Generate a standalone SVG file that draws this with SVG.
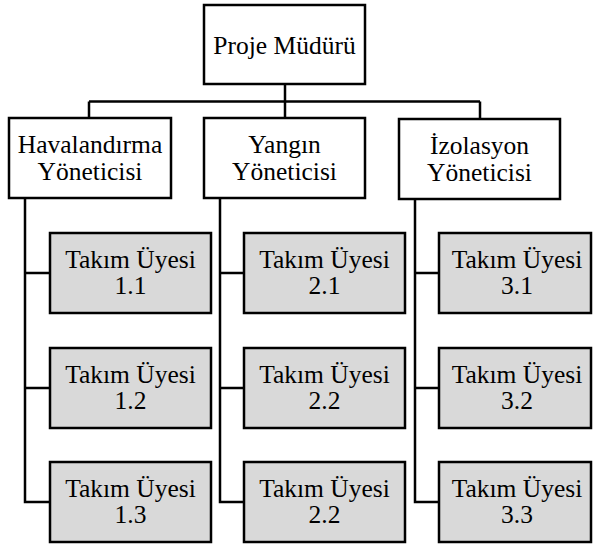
<svg xmlns="http://www.w3.org/2000/svg" width="595" height="547" viewBox="0 0 595 547">
<style>
.box{fill:#ffffff;stroke:#000;stroke-width:2.5}
.team{fill:#d9d9d9;stroke:#000;stroke-width:2.5}
.t{font-family:'Liberation Serif','Times New Roman','DejaVu Serif',serif;font-size:25.5px;fill:#000;text-anchor:middle}
.c{fill:none;stroke:#000;stroke-width:2.5}
</style>
<rect width="595" height="547" fill="#ffffff"/>
<g id="connectors">
<path class="c" d="M285 84 V118"/>
<path class="c" d="M89 101.5 H480"/>
<path class="c" d="M89 101.5 V118"/>
<path class="c" d="M480 101.5 V119"/>
<path class="c" d="M25 199 V502 H50 M25 273 H50 M25 388 H50"/>
<path class="c" d="M220 199 V502 H244 M220 273 H244 M220 388 H244"/>
<path class="c" d="M415 199 V502 H439 M415 273 H439 M415 388 H439"/>
</g>
<g id="proje-muduru">
<rect class="box" x="204" y="5" width="161" height="79"/>
<text class="t" x="284.5" y="54" font-family="Liberation Serif, serif">Proje Müdürü</text>
</g>
<g id="havalandirma">
<rect class="box" x="9" y="118" width="162" height="80"/>
<text class="t" x="90" y="153">Havalandırma</text>
<text class="t" x="90" y="180">Yöneticisi</text>
</g>
<g id="yangin">
<rect class="box" x="204" y="118" width="161" height="80"/>
<text class="t" x="284.5" y="153">Yangın</text>
<text class="t" x="284.5" y="180">Yöneticisi</text>
</g>
<g id="izolasyon">
<rect class="box" x="399" y="119" width="161" height="80"/>
<text class="t" x="479.5" y="154">İzolasyon</text>
<text class="t" x="479.5" y="181">Yöneticisi</text>
</g>
<g id="uye-1-1">
<rect class="team" x="50" y="233" width="161" height="80"/>
<text class="t" x="130.5" y="268">Takım Üyesi</text>
<text class="t" x="130.5" y="294">1.1</text>
</g>
<g id="uye-1-2">
<rect class="team" x="50" y="348" width="161" height="80"/>
<text class="t" x="130.5" y="383">Takım Üyesi</text>
<text class="t" x="130.5" y="409">1.2</text>
</g>
<g id="uye-1-3">
<rect class="team" x="50" y="462" width="161" height="80"/>
<text class="t" x="130.5" y="497">Takım Üyesi</text>
<text class="t" x="130.5" y="523">1.3</text>
</g>
<g id="uye-2-1">
<rect class="team" x="244" y="233" width="161" height="80"/>
<text class="t" x="324.5" y="268">Takım Üyesi</text>
<text class="t" x="324.5" y="294">2.1</text>
</g>
<g id="uye-2-2a">
<rect class="team" x="244" y="348" width="161" height="80"/>
<text class="t" x="324.5" y="383">Takım Üyesi</text>
<text class="t" x="324.5" y="409">2.2</text>
</g>
<g id="uye-2-2b">
<rect class="team" x="244" y="462" width="161" height="80"/>
<text class="t" x="324.5" y="497">Takım Üyesi</text>
<text class="t" x="324.5" y="523">2.2</text>
</g>
<g id="uye-3-1">
<rect class="team" x="439" y="233" width="152" height="80"/>
<text class="t" x="517" y="268">Takım Üyesi</text>
<text class="t" x="517" y="294">3.1</text>
</g>
<g id="uye-3-2">
<rect class="team" x="439" y="348" width="152" height="80"/>
<text class="t" x="517" y="383">Takım Üyesi</text>
<text class="t" x="517" y="409">3.2</text>
</g>
<g id="uye-3-3">
<rect class="team" x="439" y="462" width="152" height="80"/>
<text class="t" x="517" y="497">Takım Üyesi</text>
<text class="t" x="517" y="523">3.3</text>
</g>
</svg>
